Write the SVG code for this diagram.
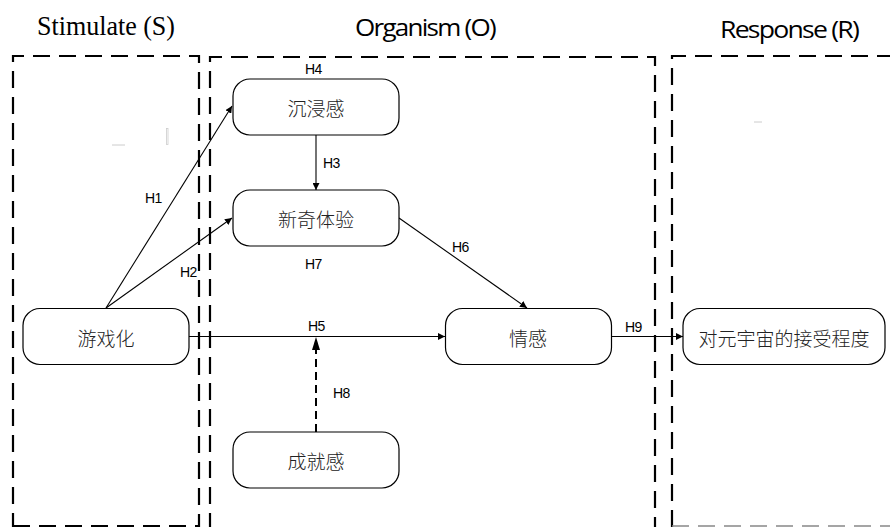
<svg xmlns="http://www.w3.org/2000/svg" width="890" height="527" viewBox="0 0 890 527">
<defs>
<marker id="arr" viewBox="0 0 10 10" refX="10" refY="5" markerWidth="7" markerHeight="7" markerUnits="userSpaceOnUse" orient="auto"><path d="M0,0 L10,5 L0,10 z" fill="#000"/></marker>
<style>
.frame{fill:none;stroke:#000;stroke-width:2.2;stroke-dasharray:17 9}
.node rect{fill:#fff;stroke:#000;stroke-width:1.2}
.node text{font-family:"Noto Sans CJK SC","Noto Sans",sans-serif;font-size:19px;font-weight:300;fill:#222;text-anchor:middle;dominant-baseline:central}
.conn{stroke:#000;stroke-width:1.1;fill:none}
.lbl{font-family:"Liberation Sans Narrow","Liberation Sans",sans-serif;font-size:14px;fill:#000;letter-spacing:-0.6px}
.title{font-family:"Open Sans","Liberation Sans",sans-serif;font-size:24px;fill:#000;letter-spacing:-1.6px}
.stitle{font-family:"Liberation Serif","Times New Roman",serif;font-size:26.5px;fill:#000}
</style>
</defs>
<rect width="890" height="527" fill="#fff"/>
<g id="frames">
<path class="frame" d="M13,530 V56 H199 V530"/>
<path class="frame" d="M13,526 H199"/>
<path class="frame" d="M210,530 V57 H655 V530"/>
<path class="frame" d="M672,527 V56 H892"/>
<path d="M672,526 H892" fill="none" stroke="#888" stroke-width="1.5" stroke-dasharray="17 9"/>
</g>
<g id="titles">
<text class="stitle" x="37" y="35" textLength="138" lengthAdjust="spacingAndGlyphs">Stimulate (S)</text>
<text class="title" x="355" y="36" textLength="140" lengthAdjust="spacingAndGlyphs">Organism (O)</text>
<text class="title" x="720" y="38" textLength="138" lengthAdjust="spacingAndGlyphs">Response (R)</text>
</g>
<g id="artifacts" fill="none">
<path d="M112,145 H125" stroke="#ccc" stroke-width="1"/>
<rect x="166.5" y="128.5" width="1.5" height="16" stroke="#ccc" stroke-width="0.8"/>
<path d="M754,122 H762" stroke="#ccc" stroke-width="1"/>
</g>
<g id="connectors">
<path class="conn" d="M106,308 L232,106" marker-end="url(#arr)"/>
<path class="conn" d="M106,308 L232,218" marker-end="url(#arr)"/>
<path class="conn" d="M316,135 V190" marker-end="url(#arr)"/>
<path class="conn" d="M399,218 L527,308" marker-end="url(#arr)"/>
<path class="conn" d="M188,336.5 H445" marker-end="url(#arr)"/>
<path class="conn" d="M611,336.5 H683" marker-end="url(#arr)"/>
<path d="M316,432 V349" stroke="#000" stroke-width="2" stroke-dasharray="8 5" fill="none"/>
<path d="M312,350 L316,337 L320,350 z" fill="#000"/>
</g>
<g id="labels">
<text class="lbl" x="305" y="74">H4</text>
<text class="lbl" x="323" y="168">H3</text>
<text class="lbl" x="145" y="203">H1</text>
<text class="lbl" x="180" y="277">H2</text>
<text class="lbl" x="305" y="269">H7</text>
<text class="lbl" x="452" y="252">H6</text>
<text class="lbl" x="308" y="331">H5</text>
<text class="lbl" x="333" y="398">H8</text>
<text class="lbl" x="625" y="332">H9</text>
</g>
<g id="n_immersion" class="node"><rect x="233" y="79" width="166" height="56" rx="17"/><text x="316" y="107">沉浸感</text></g>
<g id="n_novelty" class="node"><rect x="233" y="190" width="166" height="56" rx="17"/><text x="316" y="218">新奇体验</text></g>
<g id="n_gamification" class="node"><rect x="23" y="308.5" width="166" height="56" rx="17"/><text x="106" y="337">游戏化</text></g>
<g id="n_emotion" class="node"><rect x="445.5" y="308.5" width="166" height="56" rx="17"/><text x="528" y="337">情感</text></g>
<g id="n_achievement" class="node"><rect x="233" y="432" width="166" height="56" rx="17"/><text x="316" y="460">成就感</text></g>
<g id="n_acceptance" class="node"><rect x="683" y="308.5" width="202" height="56" rx="17"/><text x="784" y="337">对元宇宙的接受程度</text></g>
</svg>
